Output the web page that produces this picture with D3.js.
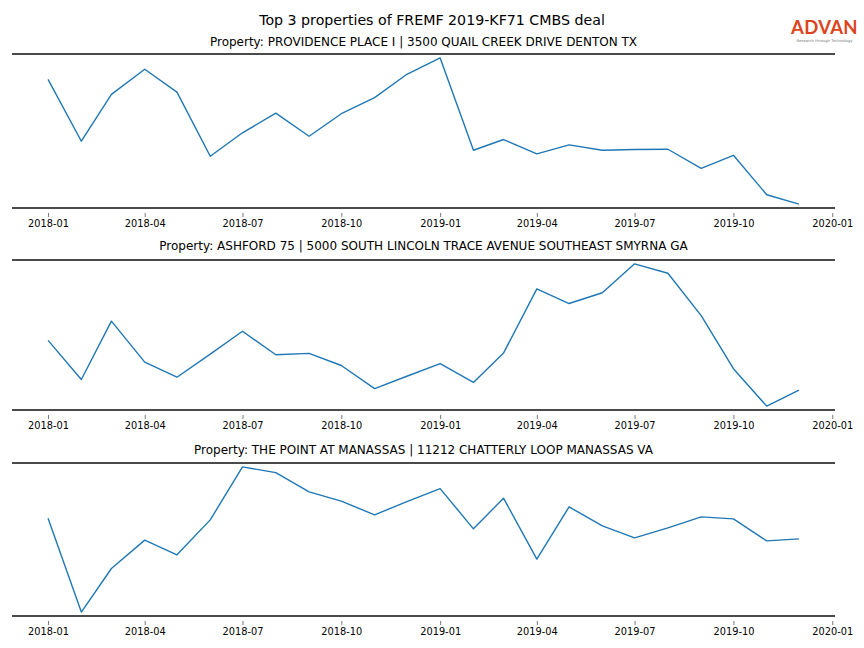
<!DOCTYPE html>
<html>
<head>
<meta charset="utf-8">
<script src="https://cdn.jsdelivr.net/npm/d3@7"></script>
<style>
  html, body { margin: 0; padding: 0; background: #fff; }
  svg { display: block; font-family: "DejaVu Sans", sans-serif; }
</style>
</head>
<body>
<svg id="chart" width="864" height="648"></svg>
<script>
// ---- data ----
const months = ["2018-01","2018-02","2018-03","2018-04","2018-05","2018-06","2018-07","2018-08","2018-09","2018-10","2018-11","2018-12",
                "2019-01","2019-02","2019-03","2019-04","2019-05","2019-06","2019-07","2019-08","2019-09","2019-10","2019-11","2019-12"];
const tickLabels = ["2018-01","2018-04","2018-07","2018-10","2019-01","2019-04","2019-07","2019-10","2020-01"];
const mainTitle = "Top 3 properties of FREMF 2019-KF71 CMBS deal";
const propertyTitles = [
  "Property: PROVIDENCE PLACE I | 3500 QUAIL CREEK DRIVE DENTON TX",
  "Property: ASHFORD 75 | 5000 SOUTH LINCOLN TRACE AVENUE SOUTHEAST SMYRNA GA",
  "Property: THE POINT AT MANASSAS | 11212 CHATTERLY LOOP MANASSAS VA"
];
const providencePlace = [1280, 663, 1130, 1380, 1153, 513, 747, 943, 713, 937, 1097, 1330,
                         1493, 573, 680, 537, 627, 573, 580, 583, 393, 523, 130, 37];
const ashford75 = [690, 290, 887, 467, 313, 550, 783, 543, 557, 433, 197, 323,
                   453, 260, 560, 1217, 1067, 1177, 1473, 1377, 943, 400, 17, 180];
const pointManassas = [977, 37, 473, 757, 610, 960, 1490, 1433, 1240, 1147, 1010, 1143,
                       1273, 870, 1177, 567, 1090, 900, 780, 880, 990, 970, 750, 770];
const seriesList = [providencePlace, ashford75, pointManassas];

// ---- layout ----
const svg = d3.select("#chart");
const parse = d3.timeParse("%Y-%m");
const dates = months.map(parse);
const left = 12, right = 835;
const panels = [
  {top: 54, bottom: 208, titleY: 46},
  {top: 260, bottom: 410, titleY: 250},
  {top: 463, bottom: 616, titleY: 454}
];

const t0 = dates[0], t1 = dates[dates.length - 1];
const span = t1 - t0;
const x = d3.scaleTime()
  .domain([new Date(+t0 - span * 0.048), new Date(+t1 + span * 0.048)])
  .range([left, right]);

svg.append("text")
  .attr("x", 432).attr("y", 25)
  .attr("text-anchor", "middle")
  .attr("font-size", 14.2)
  .attr("fill", "#000")
  .text(mainTitle);

// logo
const logo = svg.append("g");
logo.append("text")
  .attr("x", 824.5).attr("y", 33.5)
  .attr("text-anchor", "middle")
  .attr("font-size", 18.5)
  .attr("font-weight", "bold")
  .attr("font-family", "Lato, 'DejaVu Sans', sans-serif")
  .attr("fill", "#dc4420")
  .attr("letter-spacing", 0.3)
  .text("ADVAN");
logo.append("text")
  .attr("x", 824.5).attr("y", 41.5)
  .attr("text-anchor", "middle")
  .attr("font-size", 3.8)
  .attr("fill", "#777")
  .text("Research through Technology");

panels.forEach((p, i) => {
  const vals = seriesList[i];
  const ext = d3.extent(vals);
  const pad = (ext[1] - ext[0]) * 0.027;
  const y = d3.scaleLinear().domain([ext[0] - pad, ext[1] + pad]).range([p.bottom, p.top]);
  const g = svg.append("g");

  g.append("text")
    .attr("x", (left + right) / 2).attr("y", p.titleY)
    .attr("text-anchor", "middle")
    .attr("font-size", 12)
    .attr("fill", "#000")
    .text(propertyTitles[i]);

  // spines
  [p.top, p.bottom].forEach(yy => {
    g.append("line")
      .attr("x1", left).attr("x2", right)
      .attr("y1", yy).attr("y2", yy)
      .attr("stroke", "#4a4a4a").attr("stroke-width", 2);
  });

  // x axis
  const axis = d3.axisBottom(x)
    .tickValues(tickLabels.map(parse))
    .tickFormat(d3.timeFormat("%Y-%m"))
    .tickSize(4).tickSizeOuter(0).tickPadding(3);
  const ag = g.append("g").attr("transform", `translate(0,${p.bottom + 5})`).call(axis);
  ag.select(".domain").remove();
  ag.selectAll(".tick line").attr("stroke", "#555").attr("stroke-width", 0.8);
  ag.selectAll(".tick text").attr("font-size", 9.8).attr("fill", "#000")
    .attr("font-family", "'DejaVu Sans', sans-serif");

  const line = d3.line().x((d, j) => x(dates[j])).y(d => y(d));
  g.append("path")
    .datum(vals)
    .attr("d", line)
    .attr("fill", "none")
    .attr("stroke", "#1f77b4")
    .attr("stroke-width", 1.4)
    .attr("stroke-linejoin", "round");
});
</script>
</body>
</html>
